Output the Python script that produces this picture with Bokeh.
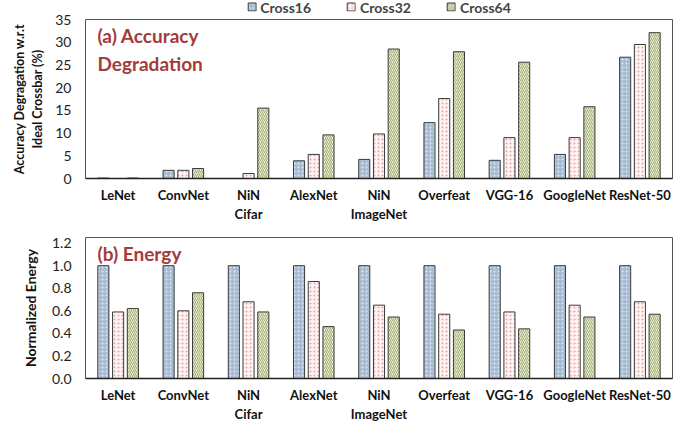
from bokeh.plotting import figure
from bokeh.models import Label, Legend, LegendItem, FactorRange, Range1d, NumeralTickFormatter, FixedTicker
from bokeh.layouts import column
from bokeh.transform import dodge
from bokeh.embed import file_html
from bokeh.resources import INLINE

networks = ["LeNet", "ConvNet", "NiN\nCifar", "AlexNet", "NiN\nImageNet",
            "Overfeat", "VGG-16", "GoogleNet", "ResNet-50"]
series = ["Cross16", "Cross32", "Cross64"]

acc_cross16 = [0.1, 1.8, 0.0, 3.9, 4.2, 12.3, 4.0, 5.3, 26.7]
acc_cross32 = [0.0, 1.8, 1.1, 5.3, 9.8, 17.6, 9.0, 9.0, 29.5]
acc_cross64 = [0.1, 2.2, 15.5, 9.6, 28.5, 27.9, 25.6, 15.8, 32.1]

en_cross16 = [1.0, 1.0, 1.0, 1.0, 1.0, 1.0, 1.0, 1.0, 1.0]
en_cross32 = [0.59, 0.60, 0.68, 0.86, 0.65, 0.57, 0.59, 0.65, 0.68]
en_cross64 = [0.62, 0.76, 0.59, 0.46, 0.545, 0.43, 0.44, 0.545, 0.57]

acc_ticks = [0, 5, 10, 15, 20, 25, 30, 35]
en_ticks = [0.0, 0.2, 0.4, 0.6, 0.8, 1.0, 1.2]

FONT = "Lato"
styles = [
    dict(fill_color="#a6bcd3", hatch_pattern="dot", hatch_color="#dfe7f0", hatch_scale=4, hatch_weight=1),
    dict(fill_color="#fdf3f3", hatch_pattern="dot", hatch_color="#e3a7a7", hatch_scale=4, hatch_weight=1),
    dict(fill_color="#e6ebcf", hatch_pattern="right_diagonal_line", hatch_color="#a3ad78", hatch_scale=4, hatch_weight=1),
]
offsets = [-0.226, 0.0, 0.226]
BW = 0.17
W = 684


def make_fig(height, yr, ticks, ylabel, vals, title, bl, br, bb, bt, fmt, ystand, ysize):
    p = figure(x_range=FactorRange(*networks, range_padding=0), y_range=Range1d(*yr),
               width=W, height=height, output_backend="svg", toolbar_location=None,
               min_border_left=bl, min_border_right=br, min_border_top=bt,
               min_border_bottom=bb)
    for i, v in enumerate(vals):
        src = dict(x=networks, y=v)
        p.vbar(x=dodge("x", offsets[i], range=p.x_range), top="y", width=BW, source=src,
               line_color="#3a3a3a", line_width=1, **styles[i])
    p.xgrid.grid_line_color = None
    p.ygrid.grid_line_color = None
    p.outline_line_color = "#555555"
    p.outline_line_width = 1
    p.yaxis.ticker = FixedTicker(ticks=ticks)
    if fmt:
        p.yaxis.formatter = NumeralTickFormatter(format=fmt)
    p.yaxis.axis_label = ylabel
    p.yaxis.axis_label_text_font = FONT
    p.yaxis.axis_label_text_font_style = "bold"
    p.yaxis.axis_label_text_font_size = ysize
    p.yaxis.axis_label_text_color = "#111111"
    p.yaxis.axis_label_standoff = ystand
    p.yaxis.major_label_text_font = FONT
    p.yaxis.major_label_text_font_size = "14px"
    p.yaxis.major_label_text_color = "#222222"
    p.yaxis.major_label_standoff = 14
    p.yaxis.axis_line_color = None
    p.xaxis.axis_line_color = "#222222"
    p.xaxis.axis_line_width = 1.3
    for ax in (p.xaxis, p.yaxis):
        ax.major_tick_line_color = None
        ax.minor_tick_line_color = None
        ax.major_tick_out = 0
        ax.major_tick_in = 0
        ax.minor_tick_out = 0
    p.xaxis.major_label_text_font = FONT
    p.xaxis.major_label_text_font_style = "bold"
    p.xaxis.major_label_text_font_size = "13px"
    p.xaxis.major_label_text_color = "#111111"
    p.xaxis.major_label_standoff = 8
    frame_h = height - bb - bt
    p.add_layout(Label(x=12, y=frame_h - 4, x_units="screen", y_units="screen", text=title,
                       text_font=FONT, text_font_style="bold", text_font_size="19px",
                       text_color="#a33b3b", text_line_height=1.25, text_baseline="top"))
    return p


# legend strip
pl = figure(x_range=FactorRange(*networks, range_padding=0), y_range=Range1d(1, 2),
            width=W, height=13, output_backend="svg", toolbar_location=None,
            min_border_left=85, min_border_right=12, min_border_top=0, min_border_bottom=0,
            x_axis_location=None, y_axis_location=None, outline_line_color=None)
pl.xgrid.grid_line_color = None
pl.ygrid.grid_line_color = None
leg_r = []
for i in range(3):
    leg_r.append(pl.vbar(x=networks[:1], top=[0], width=BW, line_color="#3a3a3a",
                         line_width=1, **styles[i]))
legend = Legend(items=[LegendItem(label=s, renderers=[r]) for s, r in zip(series, leg_r)],
                orientation="horizontal", location="center", border_line_color=None,
                background_fill_alpha=0, label_text_font=FONT, label_text_font_style="bold",
                label_text_font_size="14px", glyph_width=10, glyph_height=10,
                label_standoff=4, spacing=35, padding=0, margin=0, label_height=13)
pl.add_layout(legend)

p1 = make_fig(212, (0, 35), acc_ticks, "Accuracy Degragation w.r.t\nIdeal Crossbar (%)",
              [acc_cross16, acc_cross32, acc_cross64], "(a) Accuracy\nDegradation",
              85, 12, 47, 6, None, 7, "12.5px")

p2 = make_fig(200, (0, 1.25), en_ticks, "Normalized Energy",
              [en_cross16, en_cross32, en_cross64], "(b) Energy",
              79, 10, 47, 12, "0.0", 10, "14px")

layout = column(pl, p1, p2, spacing=0)
open("out.html", "w").write(file_html(layout, INLINE))
